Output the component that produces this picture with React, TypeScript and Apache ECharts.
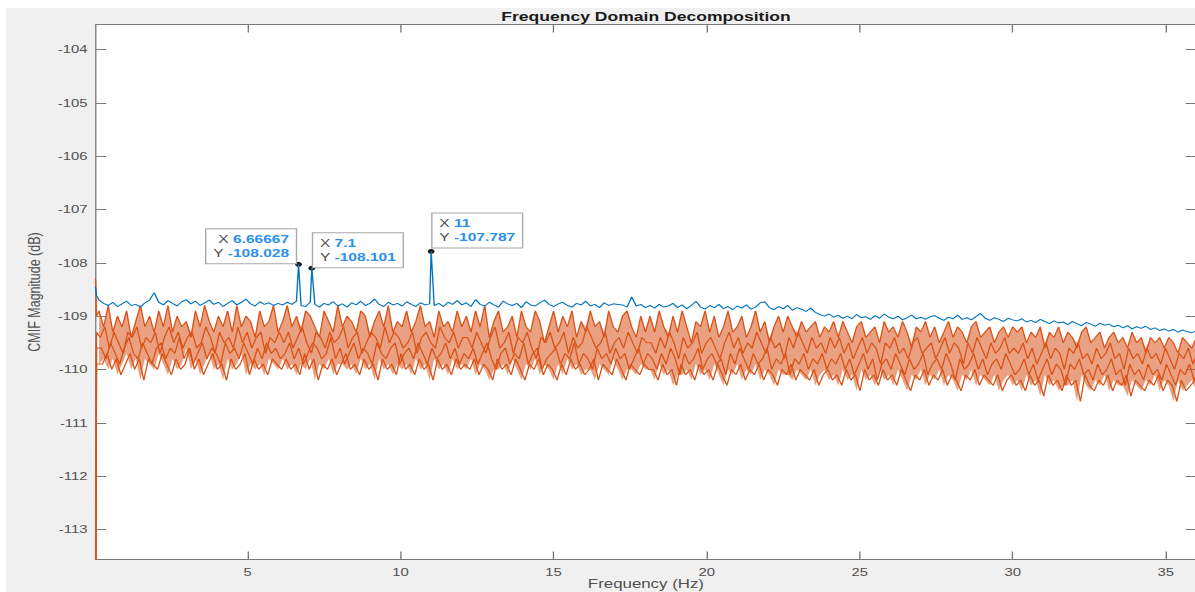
import React, { useEffect, useRef } from "react";
import * as echarts from "echarts";

// ---------------- data ----------------
const edgeFreqs = [1 / 30, 2 / 30];
const gridFreqs = Array.from({ length: 240 }, (_, i) => Math.round((i + 1) * 15) / 100);
const freqs = [...edgeFreqs, ...gridFreqs];
// the lower singular values are sampled on grids shifted by these frequencies
const orangeGridShift = [0, 0.0375, 0.075, 0.1125];

const xTicks = [5, 10, 15, 20, 25, 30, 35];
const yTicks = [-113, -112, -111, -110, -109, -108, -107, -106, -105, -104];

// first singular value (blue)
const sv1 = [
  -108.45, -108.62,
  -108.70,-108.76,-108.80,-108.74,-108.82,-108.77,-108.72,-108.80,-108.78,-108.83,
  -108.75,-108.70,-108.56,-108.74,-108.79,-108.71,-108.76,-108.81,-108.73,-108.69,
  -108.77,-108.72,-108.80,-108.75,-108.70,-108.78,-108.74,-108.82,-108.76,-108.71,
  -108.79,-108.74,-108.68,-108.77,-108.81,-108.73,-108.78,-108.75,-108.80,-108.76,
  -108.79,-108.74,-108.78,-108.72,-108.80,-108.82,-108.74,-108.78,-108.83,-108.76,
  -108.79,-108.73,-108.81,-108.77,-108.83,-108.75,-108.79,-108.72,-108.80,-108.76,
  -108.68,-108.78,-108.82,-108.74,-108.79,-108.76,-108.81,-108.73,-108.78,-108.82,
  -108.75,-108.79,-108.77,-108.80,-108.76,-108.82,-108.74,-108.78,-108.71,-108.79,
  -108.75,-108.82,-108.69,-108.78,-108.81,-108.74,-108.79,-108.83,-108.72,-108.77,
  -108.80,-108.76,-108.84,-108.73,-108.79,-108.81,-108.75,-108.70,-108.78,-108.82,
  -108.77,-108.74,-108.80,-108.83,-108.76,-108.79,-108.72,-108.81,-108.78,-108.84,
  -108.75,-108.80,-108.77,-108.78,-108.79,-108.83,-108.64,-108.81,-108.78,-108.84,
  -108.80,-108.85,-108.78,-108.83,-108.81,-108.76,-108.84,-108.79,-108.86,-108.80,
  -108.72,-108.83,-108.87,-108.80,-108.84,-108.78,-108.86,-108.82,-108.88,-108.81,
  -108.85,-108.79,-108.87,-108.83,-108.75,-108.73,-108.84,-108.88,-108.82,-108.86,
  -108.80,-108.89,-108.84,-108.87,-108.91,-108.85,-108.93,-108.97,-109.00,-108.96,
  -109.02,-108.98,-109.04,-109.00,-109.05,-108.97,-109.03,-109.01,-109.06,-108.99,
  -109.04,-108.96,-109.02,-109.05,-109.00,-109.07,-109.03,-108.98,-109.05,-109.02,
  -109.06,-109.01,-108.99,-109.04,-109.08,-109.02,-109.05,-108.98,-109.06,-109.03,
  -109.07,-109.01,-108.95,-109.04,-109.08,-109.03,-109.06,-109.10,-109.04,-109.07,
  -109.09,-109.05,-109.11,-109.08,-109.12,-109.06,-109.10,-109.14,-109.09,-109.13,
  -109.11,-109.16,-109.10,-109.14,-109.18,-109.12,-109.15,-109.19,-109.13,-109.17,
  -109.15,-109.20,-109.17,-109.22,-109.18,-109.24,-109.20,-109.23,-109.19,-109.25,
  -109.22,-109.27,-109.24,-109.28,-109.25,-109.30,-109.26,-109.29,-109.31,-109.28,
];

// remaining singular values (orange)
const sv2 = [
  -108.3, -109.0,
  -108.9,-109.2,-108.8,-109.3,-109.0,-109.2,-108.9,-109.4,-109.1,-108.8,
  -109.2,-109.0,-109.3,-108.9,-109.2,-108.8,-109.3,-109.0,-109.2,-109.1,
  -109.4,-108.9,-109.2,-108.8,-109.1,-109.3,-109.0,-109.2,-108.9,-109.3,
  -108.8,-109.2,-109.0,-109.1,-109.4,-108.9,-109.2,-109.1,-108.8,-109.3,
  -109.1,-108.8,-109.2,-109.0,-109.3,-108.9,-109.0,-109.2,-109.4,-108.9,
  -109.1,-109.3,-108.8,-109.2,-109.0,-109.1,-109.3,-108.9,-109.0,-109.4,
  -109.1,-108.9,-109.2,-108.8,-109.3,-109.1,-109.2,-108.9,-109.3,-109.1,
  -108.8,-109.2,-109.1,-109.4,-108.9,-109.2,-109.1,-109.3,-108.9,-109.2,
  -109.0,-109.3,-108.9,-109.2,-108.8,-109.4,-109.1,-108.9,-109.3,-109.2,
  -109.0,-109.4,-108.9,-109.2,-109.3,-108.9,-109.1,-109.5,-109.2,-108.9,
  -109.3,-109.0,-109.2,-108.9,-109.4,-109.1,-109.3,-108.9,-109.2,-109.1,
  -109.4,-108.9,-109.2,-109.3,-109.0,-108.9,-109.2,-109.4,-109.0,-109.3,
  -109.0,-109.3,-108.9,-109.2,-109.4,-109.0,-109.3,-108.9,-109.2,-109.5,
  -109.1,-109.2,-108.9,-109.3,-109.0,-109.4,-109.2,-108.9,-109.3,-109.2,
  -109.0,-109.4,-109.2,-108.9,-109.3,-109.1,-109.5,-109.2,-109.0,-109.3,
  -109.0,-109.2,-109.4,-109.1,-109.3,-109.2,-109.1,-109.4,-109.2,-109.3,
  -109.1,-109.4,-109.1,-109.3,-109.5,-109.2,-109.1,-109.4,-109.3,-109.2,
  -109.5,-109.1,-109.3,-109.2,-109.4,-109.1,-109.3,-109.6,-109.2,-109.3,
  -109.1,-109.4,-109.2,-109.5,-109.3,-109.1,-109.4,-109.2,-109.3,-109.5,
  -109.2,-109.1,-109.4,-109.3,-109.2,-109.5,-109.3,-109.2,-109.4,-109.2,
  -109.3,-109.2,-109.5,-109.3,-109.4,-109.2,-109.6,-109.3,-109.4,-109.2,
  -109.5,-109.3,-109.4,-109.6,-109.3,-109.2,-109.5,-109.4,-109.3,-109.6,
  -109.4,-109.3,-109.5,-109.4,-109.6,-109.3,-109.5,-109.4,-109.7,-109.4,
  -109.5,-109.4,-109.6,-109.4,-109.5,-109.7,-109.4,-109.5,-109.6,-109.4,
];

const sv3 = [
  -116.0, -109.3,
  -109.4,-109.2,-109.6,-109.3,-109.5,-109.7,-109.3,-109.4,-109.2,-109.6,
  -109.4,-109.5,-109.3,-109.7,-109.4,-109.2,-109.5,-109.3,-109.6,-109.4,
  -109.3,-109.6,-109.5,-109.2,-109.4,-109.7,-109.3,-109.5,-109.4,-109.6,
  -109.2,-109.5,-109.3,-109.6,-109.4,-109.3,-109.7,-109.4,-109.5,-109.3,
  -109.5,-109.3,-109.6,-109.4,-109.2,-109.5,-109.7,-109.3,-109.4,-109.6,
  -109.3,-109.5,-109.4,-109.2,-109.6,-109.4,-109.3,-109.7,-109.5,-109.3,
  -109.4,-109.6,-109.2,-109.5,-109.3,-109.4,-109.6,-109.5,-109.3,-109.7,
  -109.4,-109.3,-109.5,-109.6,-109.2,-109.4,-109.5,-109.3,-109.6,-109.4,
  -109.4,-109.6,-109.3,-109.5,-109.7,-109.4,-109.2,-109.6,-109.5,-109.3,
  -109.7,-109.4,-109.5,-109.3,-109.6,-109.8,-109.4,-109.5,-109.3,-109.6,
  -109.5,-109.3,-109.7,-109.4,-109.6,-109.5,-109.2,-109.4,-109.6,-109.5,
  -109.3,-109.7,-109.5,-109.4,-109.6,-109.3,-109.5,-109.7,-109.4,-109.5,
  -109.5,-109.7,-109.4,-109.6,-109.3,-109.5,-109.8,-109.4,-109.6,-109.5,
  -109.3,-109.7,-109.5,-109.4,-109.6,-109.8,-109.5,-109.3,-109.6,-109.4,
  -109.7,-109.5,-109.6,-109.3,-109.5,-109.7,-109.4,-109.6,-109.5,-109.8,
  -109.4,-109.6,-109.3,-109.5,-109.7,-109.4,-109.6,-109.5,-109.7,-109.4,
  -109.6,-109.4,-109.7,-109.5,-109.8,-109.6,-109.4,-109.7,-109.5,-109.6,
  -109.9,-109.5,-109.6,-109.4,-109.7,-109.6,-109.8,-109.5,-109.4,-109.7,
  -109.6,-109.5,-109.8,-109.6,-109.4,-109.7,-109.5,-109.6,-109.9,-109.5,
  -109.7,-109.4,-109.6,-109.8,-109.5,-109.7,-109.6,-109.4,-109.7,-109.6,
  -109.7,-109.5,-109.8,-109.6,-109.9,-109.7,-109.5,-109.8,-109.6,-109.7,
  -110.0,-109.6,-109.7,-109.5,-109.8,-109.7,-109.9,-109.6,-109.8,-109.7,
  -109.5,-109.8,-109.7,-110.0,-109.6,-109.8,-109.7,-109.9,-109.6,-109.8,
  -109.7,-109.9,-109.6,-109.8,-110.0,-109.7,-109.8,-109.6,-109.9,-109.7,
];

const sv4 = [
  -116.0, -109.6,
  -109.6,-109.8,-109.5,-109.7,-109.9,-109.6,-109.4,-109.7,-109.8,-109.5,
  -109.7,-109.9,-109.6,-109.5,-109.8,-109.6,-109.7,-109.4,-109.8,-109.6,
  -109.9,-109.7,-109.5,-109.8,-109.6,-109.7,-109.9,-109.5,-109.7,-109.6,
  -109.8,-109.5,-109.7,-109.9,-109.6,-109.8,-109.5,-109.7,-109.6,-109.8,
  -109.7,-109.5,-109.8,-109.6,-109.9,-109.7,-109.5,-109.6,-109.8,-109.7,
  -109.4,-109.8,-109.6,-109.9,-109.7,-109.5,-109.8,-109.6,-109.7,-109.9,
  -109.5,-109.7,-109.8,-109.6,-109.5,-109.9,-109.7,-109.6,-109.8,-109.5,
  -109.7,-109.9,-109.6,-109.8,-109.7,-109.5,-109.8,-109.6,-109.9,-109.7,
  -109.8,-109.6,-109.9,-109.7,-109.5,-109.8,-110.0,-109.7,-109.6,-109.9,
  -109.7,-109.8,-109.5,-109.9,-109.7,-109.6,-110.0,-109.8,-109.7,-109.6,
  -109.9,-109.7,-109.8,-109.5,-109.9,-109.7,-109.8,-110.0,-109.6,-109.8,
  -109.7,-109.9,-109.6,-109.8,-109.7,-110.0,-109.8,-109.6,-109.9,-109.7,
  -109.8,-110.0,-109.7,-109.9,-109.6,-109.8,-110.1,-109.7,-109.9,-109.8,
  -109.6,-110.0,-109.8,-109.7,-109.9,-109.8,-110.1,-109.7,-109.9,-109.6,
  -109.8,-110.0,-109.7,-109.9,-109.8,-109.6,-110.0,-109.8,-109.9,-109.7,
  -110.1,-109.8,-109.9,-109.7,-110.0,-109.8,-109.9,-109.7,-110.0,-109.8,
  -109.9,-109.7,-110.0,-109.8,-110.1,-109.9,-109.7,-110.0,-109.8,-110.2,
  -109.9,-109.8,-110.0,-109.7,-109.9,-110.1,-109.8,-110.0,-109.9,-109.7,
  -110.1,-109.9,-109.8,-110.0,-109.7,-109.9,-110.2,-109.8,-110.0,-109.9,
  -109.7,-110.0,-109.8,-110.1,-109.9,-109.8,-110.0,-109.7,-109.9,-110.1,
  -110.0,-109.8,-110.1,-109.9,-110.2,-110.0,-109.8,-110.1,-109.9,-110.0,
  -110.3,-109.9,-110.0,-109.8,-110.1,-110.0,-110.2,-109.9,-110.1,-110.0,
  -109.8,-110.1,-110.0,-110.3,-109.9,-110.1,-110.0,-110.2,-109.9,-110.1,
  -110.0,-110.2,-109.9,-110.1,-110.3,-110.0,-110.1,-109.9,-110.2,-110.0,
];

const sv5 = [
  -116.0, -109.9,
  -109.9,-109.7,-110.0,-109.8,-110.1,-109.9,-109.7,-110.0,-109.8,-110.2,
  -109.8,-109.9,-110.0,-109.7,-109.9,-110.1,-109.8,-110.0,-109.9,-109.6,
  -110.0,-109.8,-110.1,-109.9,-109.7,-110.0,-109.9,-110.2,-109.8,-110.0,
  -109.9,-109.7,-110.1,-109.8,-110.0,-109.9,-110.1,-109.8,-109.9,-110.0,
  -109.8,-110.0,-109.9,-110.1,-109.7,-110.0,-109.8,-110.2,-109.9,-110.0,
  -109.8,-110.1,-109.9,-109.7,-110.0,-109.9,-110.1,-109.8,-110.0,-109.9,
  -110.2,-109.8,-110.0,-109.9,-110.1,-109.7,-110.0,-109.9,-110.1,-109.8,
  -110.0,-109.9,-110.2,-109.8,-110.0,-109.9,-110.1,-109.8,-110.0,-109.9,
  -110.0,-109.8,-110.1,-109.9,-110.0,-110.2,-109.8,-110.0,-109.9,-110.1,
  -109.8,-110.0,-110.2,-109.9,-110.0,-109.8,-110.1,-109.9,-110.0,-110.2,
  -109.9,-110.1,-109.8,-110.0,-109.9,-110.1,-110.0,-109.8,-110.2,-109.9,
  -110.0,-110.1,-109.8,-110.0,-110.2,-109.9,-110.0,-110.1,-109.9,-110.0,
  -110.0,-110.2,-109.9,-110.1,-110.0,-110.3,-109.9,-110.1,-110.0,-110.2,
  -109.9,-110.1,-110.0,-110.2,-109.9,-110.1,-110.3,-110.0,-110.1,-109.9,
  -110.2,-110.0,-110.1,-109.9,-110.2,-110.0,-110.1,-110.3,-110.0,-110.1,
  -109.9,-110.2,-110.0,-110.1,-110.2,-110.0,-110.3,-110.1,-110.0,-110.2,
  -110.1,-110.3,-110.0,-110.2,-110.1,-110.4,-110.0,-110.2,-110.1,-110.3,
  -110.0,-110.2,-110.1,-110.3,-110.0,-110.2,-110.4,-110.1,-110.2,-110.0,
  -110.3,-110.1,-110.2,-110.0,-110.3,-110.1,-110.2,-110.4,-110.1,-110.2,
  -110.0,-110.3,-110.1,-110.2,-110.3,-110.1,-110.4,-110.2,-110.1,-110.3,
  -110.2,-110.4,-110.1,-110.3,-110.2,-110.5,-110.1,-110.3,-110.2,-110.4,
  -110.1,-110.3,-110.2,-110.6,-110.1,-110.3,-110.4,-110.2,-110.3,-110.1,
  -110.4,-110.2,-110.3,-110.1,-110.5,-110.2,-110.3,-110.4,-110.2,-110.3,
  -110.1,-110.4,-110.2,-110.3,-110.6,-110.2,-110.4,-110.3,-110.2,-110.4,
];

// data tips (peaks of the first singular value)
const peakFreqs = [6.66667, 7.1, 11];
const peakVals = [-108.028, -108.101, -107.787];

// ---------------- layout / style ----------------
const STRETCH = 1.35;
const OUT_W = 1195;
const OUT_H = 592;
const OFF_X = 6;
const OFF_Y = 8;
const INNER_W = (OUT_W - OFF_X) / STRETCH;
const INNER_H = OUT_H - OFF_Y;

const FREQ_MIN = 1 / 30;
const FREQ_MAX = 36;
const Y_MIN = -113.564;
const Y_MAX = -103.531;

const BLUE = "#0072BD";
const ORANGE = "#D95319";
const AXIS_COLOR = "#7a7a7a";
const LABEL_COLOR = "#505050";
const FONT = "Liberation Sans, Arial, Helvetica, sans-serif";

const toPairs = (vals: number[], shift = 0) =>
  freqs.map((f, i) => [i < edgeFreqs.length ? f : f + shift, vals[i]]);

export default function App() {
  const ref = useRef<HTMLDivElement>(null);

  useEffect(() => {
    if (!ref.current) return;
    const chart = echarts.init(ref.current, null, { renderer: "svg" });

    const bluePairs = toPairs(sv1)
      .filter((p) => !peakFreqs.some((pf) => Math.abs(pf - (p[0] as number)) < 1e-6))
      .concat(peakFreqs.map((f, i) => [f, peakVals[i]]))
      .sort((a, b) => (a[0] as number) - (b[0] as number));

    const orange = [sv2, sv3, sv4, sv5];
    // envelope of the orange singular values (band shading)
    const bandIdx = gridFreqs.map((_, j) => j + edgeFreqs.length);
    const bandHigh = bandIdx.map((i) => [freqs[i], Math.max(...orange.map((s) => s[i]))]);
    const bandLow = bandIdx.map((i) => [freqs[i], Math.min(...orange.map((s) => s[i]))]);

    const axisLine = { show: true, onZero: false, lineStyle: { color: AXIS_COLOR, width: 1 } };
    const tick = (vals: number[]) => ({
      show: true,
      inside: true,
      length: 8,
      customValues: vals,
      lineStyle: { color: AXIS_COLOR, width: 1 },
    });
    const tickLabel = (vals: number[], margin: number) => ({
      show: true,
      customValues: vals,
      fontSize: 11,
      color: LABEL_COLOR,
      fontFamily: FONT,
      margin,
    });

    const tipPlacement = [
      { position: [0.5, 1.5], align: "right" },
      { position: [3.5, 1.5], align: "left" },
      { position: [3.5, -1.5], align: "left" },
    ];

    const lineBase = {
      type: "line",
      showSymbol: false,
      symbol: "none",
      silent: true,
      clip: true,
    };

    const option: any = {
      animation: false,
      backgroundColor: "transparent",
      textStyle: { fontFamily: FONT },
      graphic: [
        {
          type: "text",
          x: (646 - OFF_X) / STRETCH,
          y: 16.5 - OFF_Y,
          silent: true,
          style: {
            text: "Frequency Domain Decomposition",
            fill: "#1a1a1a",
            fontSize: 13,
            fontWeight: "bold",
            fontFamily: FONT,
            align: "center",
            verticalAlign: "middle",
          },
        },
      ],
      grid: {
        show: true,
        backgroundColor: "#ffffff",
        borderWidth: 0,
        left: (95.5 - OFF_X) / STRETCH,
        top: 24.5 - OFF_Y,
        bottom: INNER_H - (559.5 - OFF_Y),
        right: INNER_W - (1196 - OFF_X) / STRETCH,
        containLabel: false,
        outerBoundsMode: "none",
      },
      xAxis: [
        {
          type: "value",
          position: "bottom",
          min: FREQ_MIN,
          max: FREQ_MAX,
          axisLine,
          axisTick: tick(xTicks),
          axisLabel: tickLabel(xTicks, 7),
          splitLine: { show: false },
          name: "Frequency (Hz)",
          nameLocation: "middle",
          nameGap: 18,
          nameMoveOverlap: false,
          nameTextStyle: { fontSize: 12.5, color: LABEL_COLOR, fontFamily: FONT },
        },
        {
          type: "value",
          position: "top",
          min: FREQ_MIN,
          max: FREQ_MAX,
          axisLine,
          axisTick: tick(xTicks),
          axisLabel: { show: false },
          splitLine: { show: false },
        },
      ],
      yAxis: [
        {
          type: "value",
          position: "left",
          min: Y_MIN,
          max: Y_MAX,
          axisLine,
          axisTick: tick(yTicks),
          axisLabel: tickLabel(yTicks, 6),
          splitLine: { show: false },
          name: "CMIF Magnitude (dB)",
          nameLocation: "middle",
          nameGap: 39,
          nameMoveOverlap: false,
          nameTextStyle: { fontSize: 12.5, color: LABEL_COLOR, fontFamily: FONT },
        },
        {
          type: "value",
          position: "right",
          min: Y_MIN,
          max: Y_MAX,
          axisLine,
          axisTick: tick(yTicks),
          axisLabel: { show: false },
          splitLine: { show: false },
        },
      ],
      series: [
        {
          type: "custom",
          name: "band",
          coordinateSystem: "cartesian2d",
          xAxisIndex: 0,
          yAxisIndex: 0,
          silent: true,
          z: 1,
          data: [[bandHigh[0][0], bandHigh[0][1]]],
          renderItem: (_params: any, api: any) => {
            const pts = bandHigh
              .map((p) => api.coord(p))
              .concat(bandLow.slice().reverse().map((p) => api.coord(p)));
            return {
              type: "polygon",
              shape: { points: pts },
              style: { fill: ORANGE, opacity: 0.55 },
              silent: true,
            };
          },
        },
        ...orange.map((vals, k) => ({
          ...lineBase,
          name: `SV${k + 2}`,
          data: toPairs(vals, orangeGridShift[k]),
          lineStyle: { color: ORANGE, width: 1 },
          itemStyle: { color: ORANGE },
          z: 2,
        })),
        {
          ...lineBase,
          name: "SV1",
          data: bluePairs,
          lineStyle: { color: BLUE, width: 1 },
          itemStyle: { color: BLUE },
          z: 5,
          markPoint: {
            silent: true,
            symbol: "circle",
            symbolSize: 5,
            itemStyle: { color: "#1b1b1b" },
            data: peakFreqs.map((f, i) => ({
              coord: [f, peakVals[i]],
              label: {
                show: true,
                position: tipPlacement[i].position,
                align: tipPlacement[i].align,
                verticalAlign: "bottom",
                backgroundColor: "rgba(255,255,255,0.97)",
                borderColor: "#a9a9a9",
                borderWidth: 1,
                padding: [3, 5, 3, 5],
                fontSize: 11.5,
                lineHeight: 14,
                fontFamily: FONT,
                color: "#4d4d4d",
                formatter: `{k|X} {v|${f}}\n{k|Y} {v|${peakVals[i]}}`,
                rich: {
                  k: { color: "#4d4d4d", fontSize: 11.5, lineHeight: 14, fontFamily: FONT },
                  v: { color: "#2a8ff0", fontSize: 11.5, lineHeight: 14, fontWeight: "bold", fontFamily: FONT },
                },
              },
            })),
          },
        },
      ],
    };

    chart.setOption(option);
    return () => chart.dispose();
  }, []);

  return (
    <div
      style={{
        position: "fixed",
        left: 0,
        top: 0,
        width: OUT_W,
        height: OUT_H,
        background: "#ffffff",
        overflow: "hidden",
      }}
    >
      <div
        ref={ref}
        style={{
          position: "absolute",
          left: OFF_X,
          top: OFF_Y,
          width: INNER_W,
          height: INNER_H,
          background: "#f0f0f0",
          transform: `scaleX(${STRETCH})`,
          transformOrigin: "0 0",
        }}
      />
    </div>
  );
}
